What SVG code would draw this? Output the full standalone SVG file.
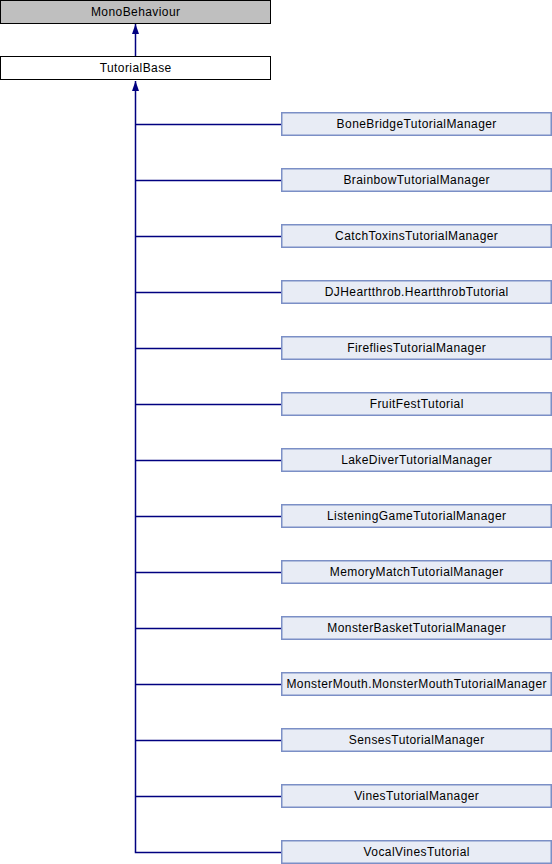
<svg xmlns="http://www.w3.org/2000/svg" width="552" height="864" viewBox="0 0 552 864">
<defs>
<style>
.t{font-family:"Liberation Sans",Arial,sans-serif;font-size:12px;letter-spacing:0.42px;text-anchor:middle;fill:#000}
.c rect{fill:#e8ecf5;stroke:#7b8fc6;stroke-width:1.5}
.e{stroke:#000080;stroke-width:1.5;fill:none}
</style>
<marker id="a" viewBox="0 0 10 10" refX="10" refY="5" markerWidth="10" markerHeight="10" markerUnits="userSpaceOnUse" orient="auto">
<path d="M0,1.5 L10,5 L0,8.5 Z" fill="#000080"/>
</marker>
</defs>
<rect width="552" height="864" fill="#fff"/>
<g id="edges">
<path class="e" d="M135.5,56 V24" marker-end="url(#a)"/>
<path class="e" d="M135.5,852 V81" marker-end="url(#a)"/>
<path class="e" d="M135.5,124.5 H281 M135.5,180.5 H281 M135.5,236.5 H281 M135.5,292.5 H281 M135.5,348.5 H281 M135.5,404.5 H281 M135.5,460.5 H281 M135.5,516.5 H281 M135.5,572.5 H281 M135.5,628.5 H281 M135.5,684.5 H281 M135.5,740.5 H281 M135.5,796.5 H281 M134.75,852.5 H281"/>
</g>
<g id="MonoBehaviour"><rect x="0.5" y="0.5" width="270" height="23" fill="#bfbfbf" stroke="#000"/><text class="t" x="135.7" y="16">MonoBehaviour</text></g>
<g id="TutorialBase"><rect x="0.5" y="56.5" width="270" height="23" fill="#fff" stroke="#000"/><text class="t" x="135.7" y="72">TutorialBase</text></g>
<g class="c">
<g id="n1"><rect x="281.75" y="112.75" width="269.5" height="22.5"/><text class="t" x="416.7" y="128">BoneBridgeTutorialManager</text></g>
<g id="n2"><rect x="281.75" y="168.75" width="269.5" height="22.5"/><text class="t" x="416.7" y="184">BrainbowTutorialManager</text></g>
<g id="n3"><rect x="281.75" y="224.75" width="269.5" height="22.5"/><text class="t" x="416.7" y="240">CatchToxinsTutorialManager</text></g>
<g id="n4"><rect x="281.75" y="280.75" width="269.5" height="22.5"/><text class="t" x="416.7" y="296">DJHeartthrob.HeartthrobTutorial</text></g>
<g id="n5"><rect x="281.75" y="336.75" width="269.5" height="22.5"/><text class="t" x="416.7" y="352">FirefliesTutorialManager</text></g>
<g id="n6"><rect x="281.75" y="392.75" width="269.5" height="22.5"/><text class="t" x="416.7" y="408">FruitFestTutorial</text></g>
<g id="n7"><rect x="281.75" y="448.75" width="269.5" height="22.5"/><text class="t" x="416.7" y="464">LakeDiverTutorialManager</text></g>
<g id="n8"><rect x="281.75" y="504.75" width="269.5" height="22.5"/><text class="t" x="416.7" y="520">ListeningGameTutorialManager</text></g>
<g id="n9"><rect x="281.75" y="560.75" width="269.5" height="22.5"/><text class="t" x="416.7" y="576">MemoryMatchTutorialManager</text></g>
<g id="n10"><rect x="281.75" y="616.75" width="269.5" height="22.5"/><text class="t" x="416.7" y="632">MonsterBasketTutorialManager</text></g>
<g id="n11"><rect x="281.75" y="672.75" width="269.5" height="22.5"/><text class="t" x="416.7" y="688">MonsterMouth.MonsterMouthTutorialManager</text></g>
<g id="n12"><rect x="281.75" y="728.75" width="269.5" height="22.5"/><text class="t" x="416.7" y="744">SensesTutorialManager</text></g>
<g id="n13"><rect x="281.75" y="784.75" width="269.5" height="22.5"/><text class="t" x="416.7" y="800">VinesTutorialManager</text></g>
<g id="n14"><rect x="281.75" y="840.75" width="269.5" height="22.5"/><text class="t" x="416.7" y="856">VocalVinesTutorial</text></g>
</g>
</svg>
